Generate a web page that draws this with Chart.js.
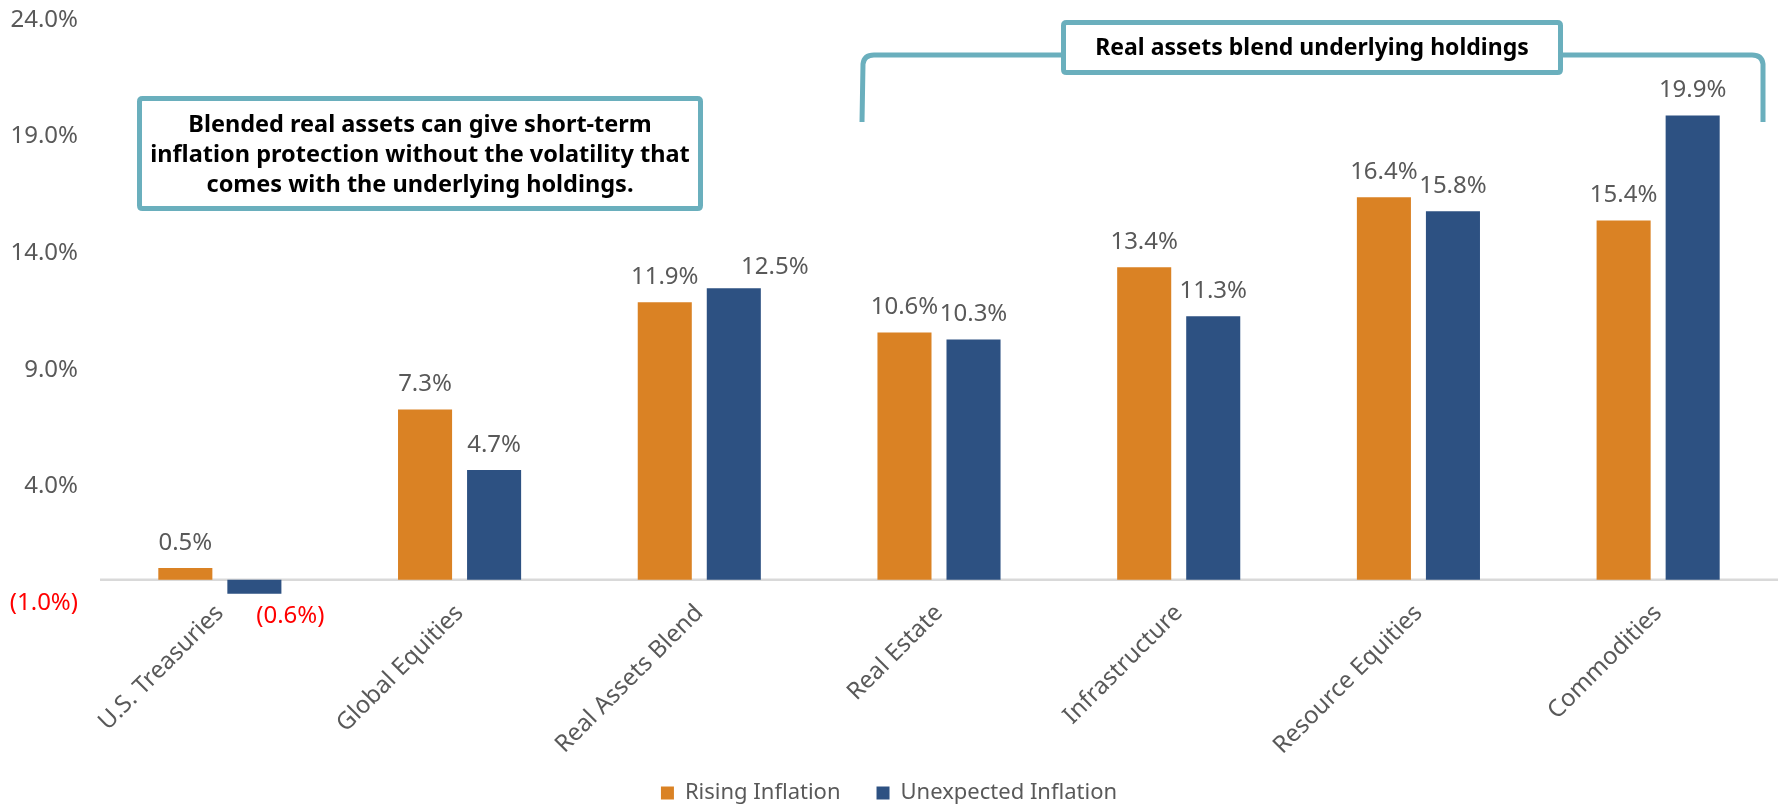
<!DOCTYPE html>
<html><head><meta charset="utf-8">
<script src="https://cdn.jsdelivr.net/npm/chart.js@4.4.1/dist/chart.umd.min.js"></script>
<style>html,body{margin:0;padding:0;background:#fff;} canvas{display:block;}</style>
</head><body>
<canvas id="c" width="1779" height="808"></canvas>
<script>
const categories = ['U.S. Treasuries','Global Equities','Real Assets Blend','Real Estate','Infrastructure','Resource Equities','Commodities'];
const risingInflation = [0.5, 7.3, 11.9, 10.6, 13.4, 16.4, 15.4];
const unexpectedInflation = [-0.6, 4.7, 12.5, 10.3, 11.3, 15.8, 19.9];
const yTicks = [-1, 4, 9, 14, 19, 24];
const seriesNames = ['Rising Inflation','Unexpected Inflation'];
const calloutLeft = ['Blended real assets can give short-term','inflation protection without the volatility that','comes with the underlying holdings.'];
const calloutRight = 'Real assets blend underlying holdings';

const ORANGE = '#DA8224', BLUE = '#2D5182', TEAL = '#6AAFBD', GRAY = '#595959', RED = '#FF0000';
const FONT = '"Noto Sans", sans-serif';

function pct(v){ return v < 0 ? '(' + Math.abs(v).toFixed(1) + '%)' : v.toFixed(1) + '%'; }

const zeroLine = {
  id: 'zeroLine',
  beforeDatasetsDraw(chart){
    const y = chart.scales.y.getPixelForValue(0);
    const {left, right} = chart.chartArea;
    const c = chart.ctx;
    c.save(); c.strokeStyle = '#D9D9D9'; c.lineWidth = 2.5;
    c.beginPath(); c.moveTo(left, y); c.lineTo(right, y); c.stroke(); c.restore();
  }
};

// manual label nudges (dataset index - category index): [dx, dy]
const labelNudge = { '1-2': [41, 4] };

const valueLabels = {
  id: 'valueLabels',
  afterDatasetsDraw(chart){
    const c = chart.ctx;
    c.save();
    c.font = '24px ' + FONT;
    c.textAlign = 'center'; c.textBaseline = 'middle';
    chart.data.datasets.forEach((ds, di) => {
      const meta = chart.getDatasetMeta(di);
      meta.data.forEach((el, i) => {
        const v = ds.data[i];
        const n = labelNudge[di + '-' + i] || [0, 0];
        if (v >= 0) { c.fillStyle = GRAY; c.fillText(pct(v), el.x + n[0], el.y - 25 + n[1]); }
        else { c.fillStyle = RED; c.fillText(pct(v), el.x + 36, el.y + 22); }
      });
    });
    c.restore();
  }
};

const legendShift = {
  id: 'legendShift',
  afterLayout(chart){
    const l = chart.legend;
    if (l) { l.top -= 17; l.bottom -= 17; }
  }
};

function roundRectPath(c, x, y, w, h, r){
  c.beginPath();
  c.moveTo(x + r, y); c.lineTo(x + w - r, y); c.quadraticCurveTo(x + w, y, x + w, y + r);
  c.lineTo(x + w, y + h - r); c.quadraticCurveTo(x + w, y + h, x + w - r, y + h);
  c.lineTo(x + r, y + h); c.quadraticCurveTo(x, y + h, x, y + h - r);
  c.lineTo(x, y + r); c.quadraticCurveTo(x, y, x + r, y); c.closePath();
}

const callouts = {
  id: 'callouts',
  afterDraw(chart){
    const c = chart.ctx;
    c.save();
    c.strokeStyle = TEAL; c.lineWidth = 5; c.lineJoin = 'round';
    c.beginPath();
    c.moveTo(862, 122); c.lineTo(863, 64); c.quadraticCurveTo(864, 55, 874, 55);
    c.lineTo(1752, 55); c.quadraticCurveTo(1762, 55, 1763, 64); c.lineTo(1763, 122);
    c.stroke();
    roundRectPath(c, 1063.5, 22.5, 497, 50, 3);
    c.fillStyle = '#fff'; c.fill(); c.stroke();
    c.fillStyle = '#000'; c.font = 'bold 23px ' + FONT;
    c.textAlign = 'center'; c.textBaseline = 'middle';
    c.fillText(calloutRight, 1312, 48);
    roundRectPath(c, 139.5, 98.5, 561, 110, 3);
    c.fillStyle = '#fff'; c.fill(); c.stroke();
    c.fillStyle = '#000'; c.font = 'bold 23.5px ' + FONT;
    calloutLeft.forEach((t, i) => c.fillText(t, 420, 125 + i * 30));
    c.restore();
  }
};

new Chart(document.getElementById('c'), {
  type: 'bar',
  data: {
    labels: categories,
    datasets: [
      { label: seriesNames[0], data: risingInflation, backgroundColor: ORANGE, categoryPercentage: 0.576, barPercentage: 0.783 },
      { label: seriesNames[1], data: unexpectedInflation, backgroundColor: BLUE, categoryPercentage: 0.576, barPercentage: 0.783 }
    ]
  },
  options: {
    responsive: false, animation: false, devicePixelRatio: 1,
    layout: { padding: { left: 0, right: 1, top: 20, bottom: -23 } },
    plugins: {
      legend: {
        position: 'bottom',
        labels: { boxWidth: 13, boxHeight: 13, padding: 36, color: GRAY, font: { family: FONT, size: 22 } }
      },
      tooltip: { enabled: false }
    },
    scales: {
      x: {
        grid: { display: false, drawTicks: false }, border: { display: false },
        ticks: { color: GRAY, font: { family: FONT, size: 24 }, minRotation: 45, maxRotation: 45, padding: -4 },
        afterFit(s){ s.height = 160; }
      },
      y: {
        min: -1, max: 24,
        grid: { display: false, drawTicks: false }, border: { display: false },
        afterBuildTicks(s){ s.ticks = yTicks.map(v => ({ value: v })); },
        ticks: {
          padding: 22, font: { family: FONT, size: 24 },
          color: ctx => (ctx.tick && ctx.tick.value < 0) ? RED : GRAY,
          callback: v => pct(v)
        },
        afterFit(s){ s.width = 100; s.paddingTop = 0; s.paddingBottom = 0; }
      }
    }
  },
  plugins: [zeroLine, valueLabels, callouts, legendShift]
});
</script>
</body></html>
